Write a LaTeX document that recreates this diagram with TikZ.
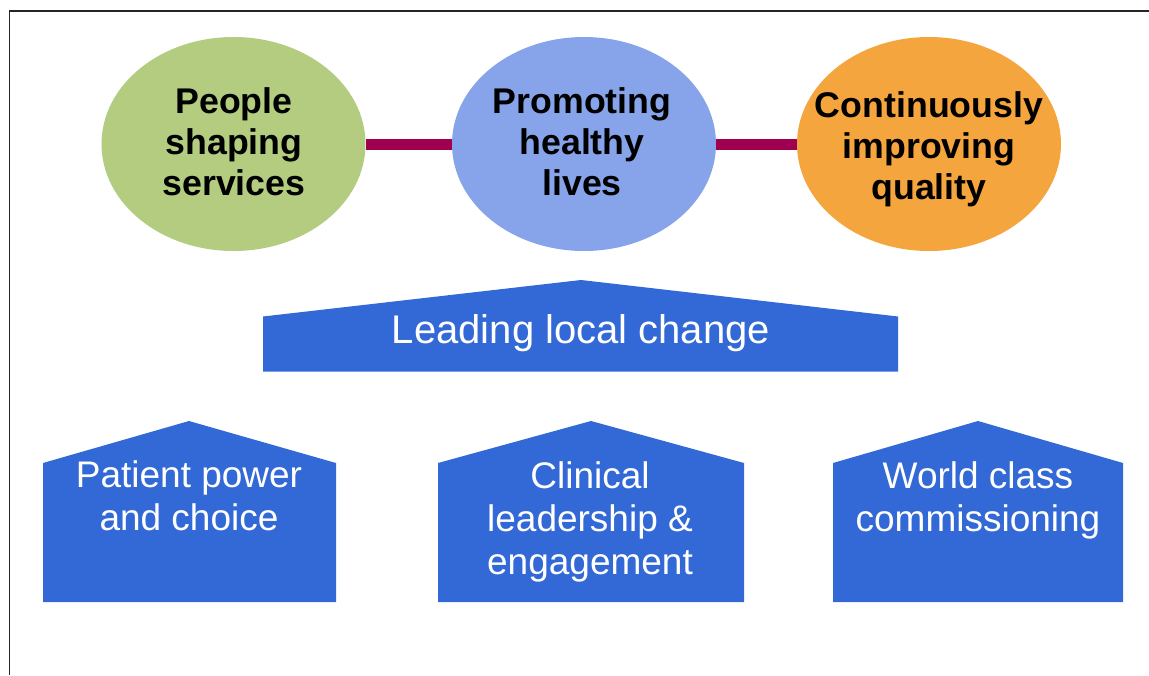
\documentclass[tikz,border=0pt]{standalone}
\usepackage{fontspec}
\setmainfont{Liberation Sans}
\usetikzlibrary{shapes.geometric}
\definecolor{leafgreen}{RGB}{179,204,127}
\definecolor{skyblue}{RGB}{135,164,234}
\definecolor{amber}{RGB}{245,165,62}
\definecolor{plum}{RGB}{160,0,80}
\definecolor{roofblue}{RGB}{51,105,214}
\begin{document}
\begin{tikzpicture}[x=1pt,y=-1pt,
  goal/.style={ellipse,minimum width=264,minimum height=214,inner sep=0pt},
  goaltext/.style={align=center,text=black,font=\fontsize{35.7}{41}\selectfont\bfseries},
  link/.style={draw=plum,line width=11pt},
  roof/.style={fill=roofblue},
  rooftext/.style={align=center,text=white,font=\fontsize{37}{43}\selectfont}]
  \useasboundingbox (0,0) rectangle (1149,675);
  % frame edges
  \draw[line width=1.5pt,black!85] (9.5,675) -- (9.5,11) -- (1149,11);
  % three goals
  \node[goal,fill=leafgreen] (people) at (233.5,144) {};
  \node[goal,fill=skyblue] (health) at (584,144) {};
  \node[goal,fill=amber] (quality) at (929,144) {};
  \draw[link] (people.east) -- (health.west);
  \draw[link] (health.east) -- (quality.west);
  \node[goaltext] (peopletxt) at (234,142) {People\\shaping\\services};
  \node[goaltext] (healthtxt) at (582,142) {Promoting\\healthy\\lives};
  \node[goaltext] (qualitytxt) at (929,149.5) {Continuously\\improving\\quality};
  % leading local change roof
  \fill[roof] (263,371.5) -- (263,316.5) -- (581,280) -- (898,316.5) -- (898,371.5) -- cycle;
  \node[rooftext,font=\fontsize{40}{46}\selectfont] (lead) at (581,333) {Leading local change};
  % three pillars
  \fill[roof] (43,602) -- (43,463) -- (189,421) -- (336,463) -- (336,602) -- cycle;
  \fill[roof] (438,602) -- (438,463) -- (591,421) -- (744,463) -- (744,602) -- cycle;
  \fill[roof] (833,602) -- (833,463) -- (978,421) -- (1123,463) -- (1123,602) -- cycle;
  \node[rooftext] (patient) at (189,496) {Patient power\\and choice};
  \node[rooftext] (clinical) at (590,521.5) {Clinical\\leadership \&\\engagement};
  \node[rooftext] (world) at (978,500) {World class\\commissioning};
\end{tikzpicture}
\end{document}
